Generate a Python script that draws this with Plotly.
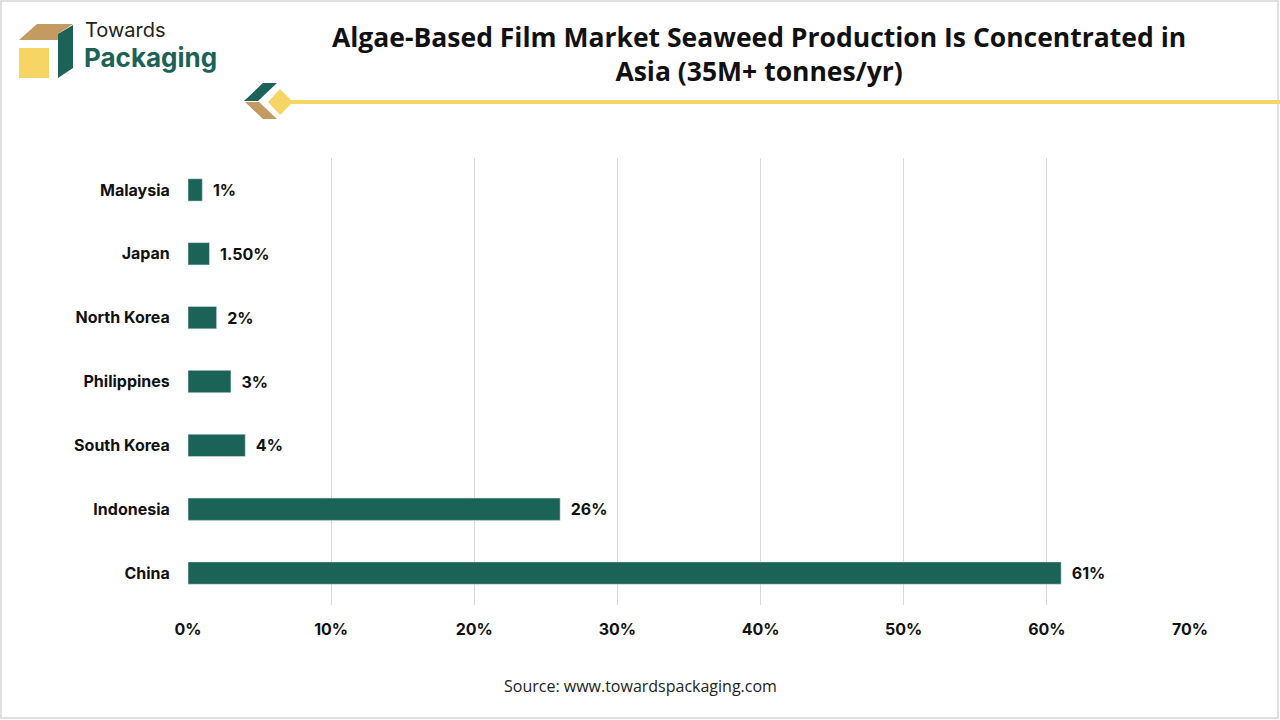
import plotly.graph_objects as go

# data
countries = ["China", "Indonesia", "South Korea", "Philippines", "North Korea", "Japan", "Malaysia"]
shares = [61, 26, 4, 3, 2, 1.5, 1]
share_labels = ["61%", "26%", "4%", "3%", "2%", "1.50%", "1%"]

GREEN = "#1b6356"
TAN = "#c49a63"
YELLOW = "#f7d565"

W, H = 1280, 720
L, R, T, B = 188, 90, 158, 115
PW, PH = W - L - R, H - T - B


def px(x):
    return (x - L) / PW


def py(y):
    return (H - B - y) / PH


def poly(points):
    d = "M " + " L ".join("%f,%f" % (px(a), py(b)) for a, b in points) + " Z"
    return d


trace = go.Bar(
    y=countries, x=shares, orientation="h",
    marker=dict(color=GREEN),
    width=0.35,
    text=share_labels, textposition="outside",
    texttemplate="\u00a0\u00a0%{text}",
    textfont=dict(family="Inter", size=16, color="#111111", weight="bold"),
    cliponaxis=False,
    hoverinfo="skip",
)

shapes = [
    # frame
    dict(type="rect", xref="paper", yref="paper", x0=px(1), x1=px(1278), y0=py(718), y1=py(1),
         line=dict(color="#d6d6d6", width=1.5), layer="below"),
    # title underline
    dict(type="line", xref="paper", yref="paper", x0=px(288), x1=px(1280), y0=py(102), y1=py(102),
         line=dict(color=YELLOW, width=4)),
    # title marker
    dict(type="path", xref="paper", yref="paper", path=poly([(244, 101), (263, 83), (277, 83), (258, 101)]),
         fillcolor=GREEN, line=dict(width=0)),
    dict(type="path", xref="paper", yref="paper", path=poly([(245, 102), (259, 102), (277, 119), (263, 119)]),
         fillcolor=TAN, line=dict(width=0)),
    dict(type="path", xref="paper", yref="paper", path=poly([(268, 102), (280, 89), (293, 102), (280, 115)]),
         fillcolor=YELLOW, line=dict(width=0)),
    # logo
    dict(type="path", xref="paper", yref="paper", path=poly([(19, 40), (37, 24), (73, 24), (58, 34), (58, 40)]),
         fillcolor=TAN, line=dict(width=0)),
    dict(type="path", xref="paper", yref="paper", path=poly([(19, 48), (49, 48), (49, 78), (19, 78)]),
         fillcolor=YELLOW, line=dict(width=0)),
    dict(type="path", xref="paper", yref="paper", path=poly([(58, 34), (73, 25), (73, 68), (58, 78)]),
         fillcolor=GREEN, line=dict(width=0)),
]

annotations = [
    dict(text="<b>Algae-Based Film Market Seaweed Production Is Concentrated in<br>Asia (35M+ tonnes/yr)</b>",
         xref="paper", yref="paper", x=px(759), y=py(54), xanchor="center", yanchor="middle",
         showarrow=False, font=dict(family="Open Sans", size=26.5, color="#111111")),
    dict(text="Towards", xref="paper", yref="paper", x=px(83), y=py(30), xanchor="left", yanchor="middle",
         showarrow=False, font=dict(family="Inter", size=20, color="#222222")),
    dict(text="<b>Packaging</b>", xref="paper", yref="paper", x=px(82), y=py(58), xanchor="left", yanchor="middle",
         showarrow=False, font=dict(family="Inter", size=26, color=GREEN)),
    dict(text="Source: www.towardspackaging.com", xref="paper", yref="paper", x=px(640), y=py(686),
         xanchor="center", yanchor="middle", showarrow=False,
         font=dict(family="Open Sans", size=16, color="#222222")),
]

layout = go.Layout(
    width=W, height=H,
    margin=dict(l=L, r=R, t=T, b=B, pad=0),
    paper_bgcolor="white", plot_bgcolor="white",
    showlegend=False,
    font=dict(family="Inter", size=16, color="#111111"),
    xaxis=dict(range=[0, 70], dtick=10, ticksuffix="%", showgrid=True, gridcolor="#d9d9d9", gridwidth=1,
               zeroline=False, showline=False, ticks="outside", ticklen=10, tickcolor="rgba(0,0,0,0)",
               tickfont=dict(family="Inter", size=16, color="#111111", weight="bold"), fixedrange=True),
    yaxis=dict(showgrid=False, zeroline=False, showline=False, ticks="outside", ticklen=14,
               tickcolor="rgba(0,0,0,0)",
               tickfont=dict(family="Inter", size=16, color="#111111", weight="bold"), fixedrange=True),
    shapes=shapes,
    annotations=annotations,
)

fig = go.Figure(data=[trace], layout=layout)
fig.write_html("out.html", config={"displayModeBar": False},
               post_script="document.body.style.margin='0';document.body.style.overflow='hidden';")
